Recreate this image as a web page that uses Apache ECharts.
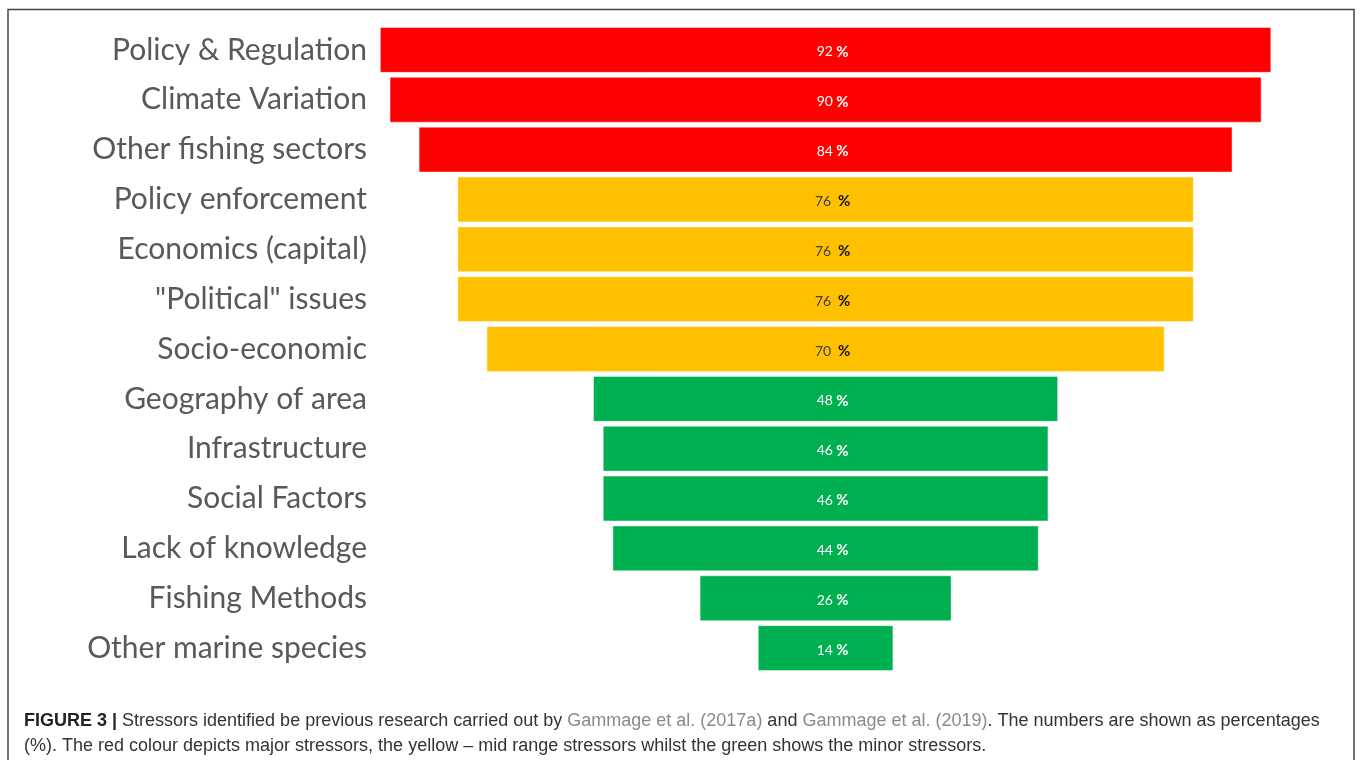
<!DOCTYPE html>
<html><head><meta charset="utf-8">
<script src="https://cdn.jsdelivr.net/npm/echarts@6/dist/echarts.min.js"></script>
<style>html,body{margin:0;padding:0;background:#fff}#c{width:1361px;height:760px}</style>
</head><body><div id="c"></div>
<script>
const categories = ['Policy & Regulation','Climate Variation','Other fishing sectors','Policy enforcement','Economics (capital)','"Political" issues','Socio-economic','Geography of area','Infrastructure','Social Factors','Lack of knowledge','Fishing Methods','Other marine species'];
const values = [92,90,84,76,76,76,70,48,46,46,44,26,14];
const levels = ['major','major','major','mid','mid','mid','mid','minor','minor','minor','minor','minor','minor'];
const levelColors = {major:'#FF0000', mid:'#FFC000', minor:'#00B050'};
const CENTER = 46.5; // axis units where funnel is centred

const offsets = values.map(v => CENTER - v/2);
const barData = values.map((v,i) => {
  const mid = levels[i] === 'mid';
  return {
    value: v,
    itemStyle: {color: levelColors[levels[i]]},
    label: {
      formatter: mid ? '{n|' + v + '}  {pd|%}' : '{w|' + v + '} {pw|%}'
    }
  };
});

const chart = echarts.init(document.getElementById('c'));
chart.setOption({
  animation:false,
  backgroundColor:'#fff',
  grid:{left:375, top:25, width:969, height:648, containLabel:false},
  xAxis:{type:'value', min:0, max:100, show:false},
  yAxis:{type:'category', data:categories, inverse:true,
    axisLine:{show:false}, axisTick:{show:false}, splitLine:{show:false},
    axisLabel:{margin:8, fontFamily:'Lato', fontSize:30, color:'#595959', padding:[10,0,0,0]}},
  series:[
    {type:'bar', stack:'s', data:offsets, itemStyle:{color:'transparent'}, silent:true, barCategoryGap:'8%'},
    {type:'bar', stack:'s', data:barData, barCategoryGap:'8%',
      itemStyle:{borderColor:'rgba(255,255,255,0.45)', borderWidth:1},
      label:{show:true, position:'inside', offset:[7,2],
        rich:{
          w:{color:'#fff', fontFamily:'Lato', fontSize:14},
          pw:{color:'#fff', fontFamily:'Lato', fontSize:15, fontWeight:'bold'},
          n:{color:'#404040', fontFamily:'Lato', fontSize:14},
          pd:{color:'#111', fontFamily:'Lato', fontSize:15, fontWeight:'bold'}
        }}}
  ],
  title:{
    left:24, top:709, padding:0,
    text:'{b|FIGURE 3 |} Stressors identified be previous research carried out by {g|Gammage et al. (2017a)} and {g|Gammage et al. (2019)}. The numbers are shown as percentages\n(%). The red colour depicts major stressors, the yellow – mid range stressors whilst the green shows the minor stressors.',
    textStyle:{fontFamily:'Liberation Sans', fontSize:18, color:'#333', fontWeight:'normal', lineHeight:25,
      rich:{
        b:{fontFamily:'Liberation Sans', fontSize:18, fontWeight:'bold', color:'#222', lineHeight:25},
        g:{fontFamily:'Liberation Sans', fontSize:18, color:'#8a8a8a', lineHeight:25}
      }}
  },
  graphic:[{type:'rect', shape:{x:8, y:9.5, width:1346, height:760}, style:{fill:'none', stroke:'#444', lineWidth:1.5}, silent:true}]
});
</script></body></html>
